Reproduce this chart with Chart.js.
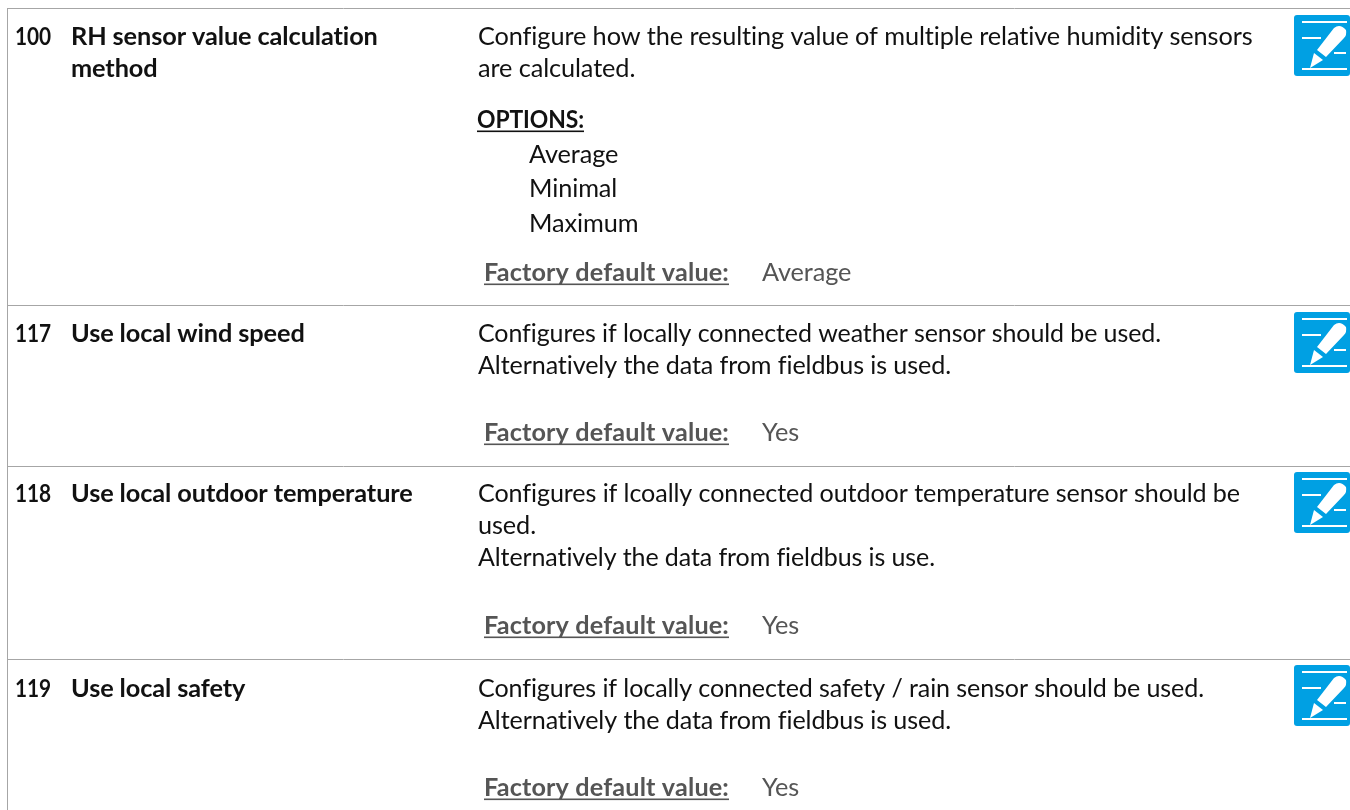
<!DOCTYPE html>
<html>
<head>
<meta charset="utf-8">
<title>Parameter table</title>
<script src="https://cdn.jsdelivr.net/npm/chart.js@4"></script>
<style>
html, body { margin: 0; padding: 0; background: #fff; overflow: hidden; }
canvas { display: block; }
</style>
</head>
<body>
<canvas id="tableChart" width="1350" height="810"></canvas>
<script>
const paramIds = ['100', '117', '118', '119'];
const paramNames = [
	['RH sensor value calculation', 'method'],
	['Use local wind speed'],
	['Use local outdoor temperature'],
	['Use local safety']
];
const paramDescriptions = [
	['Configure how the resulting value of multiple relative humidity sensors', 'are calculated.'],
	['Configures if locally connected weather sensor should be used.', 'Alternatively the data from fieldbus is used.'],
	['Configures if lcoally connected outdoor temperature sensor should be', 'used.', 'Alternatively the data from fieldbus is use.'],
	['Configures if locally connected safety / rain sensor should be used.', 'Alternatively the data from fieldbus is used.']
];
const paramDefaults = ['Average', 'Yes', 'Yes', 'Yes'];
const optionsTitle = 'OPTIONS:';
const optionValues = ['Average', 'Minimal', 'Maximum'];
const defaultLabel = 'Factory default value:';

// layout, in page pixels
const ruleLines = [8.5, 305.5, 466.5, 659.5];
const firstBaselines = [45, 342, 501.5, 697];
const defaultBaselines = [281, 441, 634, 796];
const iconCentres = [45.5, 342.5, 502.5, 695.5];
const optionBaselines = [163, 197, 232];
const descriptionWidths = [[775, 159], [683, 473], [762, 58, 457], [726, 473]];
const LINE_HEIGHT = 32.2;
const FONT_FAMILY = 'Lato, "Open Sans", sans-serif';
const FONT_SIZE = 25.3;
const TEXT_SPACING = '-0.1px';
const RULE_COLOR = '#a6a6a6';

function makeIcon() {
	const icon = document.createElement('canvas');
	icon.width = 56;
	icon.height = 61;
	const ctx = icon.getContext('2d');
	ctx.fillStyle = '#00a0e3';
	ctx.beginPath();
	ctx.roundRect(0, 0, 56, 61, 3);
	ctx.fill();
	ctx.strokeStyle = '#fff';
	ctx.lineWidth = 2;
	[[8, 7, 53], [8, 23, 27], [40, 38, 52], [8, 54, 53]].forEach(([x1, y, x2]) => {
		ctx.beginPath();
		ctx.moveTo(x1, y);
		ctx.lineTo(x2, y);
		ctx.stroke();
	});
	ctx.fillStyle = '#fff';
	ctx.beginPath();
	ctx.moveTo(16, 53);
	ctx.lineTo(20, 38);
	ctx.lineTo(29, 45);
	ctx.closePath();
	ctx.fill();
	ctx.beginPath();
	ctx.moveTo(23, 35);
	ctx.lineTo(40, 13);
	ctx.quadraticCurveTo(46, 8, 52, 15);
	ctx.quadraticCurveTo(53, 20, 50, 23);
	ctx.lineTo(32, 42);
	ctx.closePath();
	ctx.fill();
	return icon;
}

const tableTextPlugin = {
	id: 'tableText',
	afterDraw(chart) {
		const { ctx, scales } = chart;
		const put = (text, x, y, opts = {}) => {
			const px = scales.x.getPixelForValue(x);
			const py = scales.y.getPixelForValue(y);
			ctx.font = `${opts.bold ? 'bold ' : ''}${FONT_SIZE}px ${FONT_FAMILY}`;
			ctx.fillStyle = opts.color || '#111';
			ctx.letterSpacing = opts.spacing || TEXT_SPACING;
			if (opts.fit) {
				ctx.fillText(text, px, py, opts.fit);
			} else {
				ctx.fillText(text, px, py);
			}
			if (opts.underline) {
				const w = opts.fit || ctx.measureText(text).width;
				ctx.fillRect(px, py + 2.5, w, 1.6);
			}
		};
		ctx.save();
		ctx.textBaseline = 'alphabetic';
		paramIds.forEach((id, i) => {
			put(id, 15, firstBaselines[i], { bold: true, fit: 36 });
			paramNames[i].forEach((line, j) => {
				put(line, 71, firstBaselines[i] + j * LINE_HEIGHT, { bold: true });
			});
			paramDescriptions[i].forEach((line, j) => {
				put(line, 478, firstBaselines[i] + j * LINE_HEIGHT, { fit: descriptionWidths[i][j] });
			});
			put(defaultLabel, 484, defaultBaselines[i], { bold: true, color: '#555', underline: true, fit: 245, spacing: '0.15px' });
			put(paramDefaults[i], 762, defaultBaselines[i], { color: '#555' });
		});
		put(optionsTitle, 477, 128, { bold: true, underline: true, fit: 107 });
		optionValues.forEach((opt, i) => put(opt, 529, optionBaselines[i]));
		ctx.restore();
	}
};

const ruleDatasets = ruleLines.map(y => ({
	data: [{ x: 8, y: y }, { x: 1350, y: y }],
	borderColor: RULE_COLOR,
	borderWidth: 1,
	pointRadius: 0,
	showLine: true
}));

new Chart(document.getElementById('tableChart').getContext('2d'), {
	type: 'scatter',
	data: {
		datasets: [
			...ruleDatasets,
			{
				data: [{ x: 7.5, y: 8 }, { x: 7.5, y: 810 }],
				borderColor: RULE_COLOR,
				borderWidth: 1,
				pointRadius: 0,
				showLine: true
			},
			{
				data: iconCentres.map(y => ({ x: 1322, y: y })),
				pointStyle: makeIcon(),
				pointRadius: 28,
				showLine: false,
				clip: false
			}
		]
	},
	options: {
		responsive: false,
		animation: false,
		layout: { padding: 0, autoPadding: false },
		scales: {
			x: { type: 'linear', min: 0, max: 1350, display: false },
			y: { type: 'linear', min: 0, max: 810, reverse: true, display: false }
		},
		plugins: {
			legend: { display: false },
			tooltip: { enabled: false }
		}
	},
	plugins: [tableTextPlugin]
});
</script>
</body>
</html>
